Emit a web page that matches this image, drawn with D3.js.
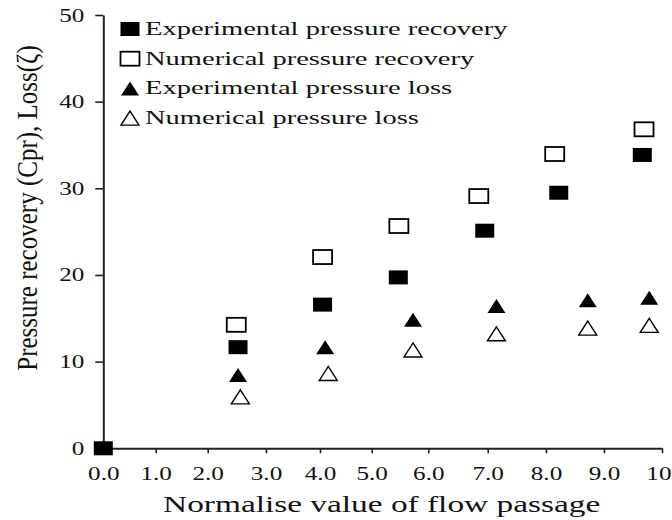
<!DOCTYPE html>
<html><head><meta charset="utf-8">
<script src="https://cdn.jsdelivr.net/npm/d3@7"></script>
<style>body{margin:0;background:#fff}</style></head>
<body>
<svg id="chart" width="672" height="520"></svg>
<script>
// ---- data ----
const xTickValues = [0,1,2,3,4,5,6,7,8,9,10];
const xTickLabels = ["0.0","1.0","2.0","3.0","4.0","5.0","6.0","7.0","8.0","9.0","10"];
const yTickValues = [0,10,20,30,40,50];
const seriesNames = ["Experimental pressure recovery","Numerical pressure recovery","Experimental pressure loss","Numerical pressure loss"];
const expRecoveryX = [0, 2.52, 4.05, 5.47, 6.95, 8.22, 9.66];
const expRecoveryY = [0, 11.67, 16.58, 19.72, 25.11, 29.49, 33.85];
const numRecoveryX = [2.49, 4.05, 5.48, 6.85, 8.15, 9.69];
const numRecoveryY = [14.25, 22.07, 25.65, 29.11, 33.96, 36.81];
const expLossX = [2.52, 4.10, 5.73, 7.15, 8.72, 9.78];
const expLossY = [8.46, 11.67, 14.84, 16.42, 17.08, 17.36];
const numLossX = [2.56, 4.16, 5.73, 7.15, 8.72, 9.78];
const numLossY = [5.93, 8.64, 11.35, 13.21, 13.87, 14.18];
const xTitle = "Normalise value of flow passage";
const yTitle = "Pressure recovery (Cpr), Loss(\u03B6)";

(function(){
// ---- layout ----
const FONT = "'Liberation Serif','Times New Roman',serif";
const plotLeft = 103.3, plotRight = 662, plotTop = 15, plotBottom = 448.3;
// the source figure's x axis is unevenly spaced; calibrate tick positions (offsets from left)
const xTickOffsets = [0, 52.4, 104.4, 162.7, 216.7, 268.4, 325, 384.4, 442.7, 500.7, 558.7];

const svg = d3.select("#chart");
svg.append("rect").attr("width",672).attr("height",520).attr("fill","#fff");

const x = d3.scaleLinear().domain(xTickValues).range(xTickOffsets.map(o => plotLeft + o));
const y = d3.scaleLinear().domain([0,50]).range([plotBottom, plotTop]);

// y axis
const gy = svg.append("g").attr("transform",`translate(${plotLeft},0)`)
  .call(d3.axisLeft(y).tickValues(yTickValues).tickSize(8).tickSizeOuter(0));
gy.select(".domain").attr("stroke","#222").attr("stroke-width",2);
gy.selectAll(".tick line").attr("stroke","#222").attr("stroke-width",1.6);
gy.selectAll(".tick text").attr("x",null).attr("dy",null)
  .attr("transform","translate(-19,6) scale(1.4,1)")
  .attr("font-family",FONT).attr("font-size",18).attr("fill","#111");

// x axis
const gx = svg.append("g").attr("transform",`translate(0,${plotBottom})`)
  .call(d3.axisBottom(x).tickValues(xTickValues).tickFormat((d,i)=>xTickLabels[i]).tickSize(5).tickSizeOuter(0));
gx.select(".domain").attr("stroke","#222").attr("stroke-width",2);
gx.selectAll(".tick line").attr("stroke","#222").attr("stroke-width",1.6);
const lastIdx = xTickValues.length - 1;
gx.selectAll(".tick text").attr("y",null).attr("dy",null)
  .attr("transform",(d,i)=> i===lastIdx ? "translate(9,31.7) scale(1.4,1)" : "translate(0,31.7) scale(1.4,1)")
  .attr("text-anchor",(d,i)=> i===lastIdx ? "end" : "middle")
  .attr("font-family",FONT).attr("font-size",18).attr("fill","#111");

// titles
svg.append("text").text(xTitle)
  .attr("transform",`translate(${(plotLeft+plotRight)/2 - 1},512) scale(1.39,1)`)
  .attr("text-anchor","middle").attr("font-family",FONT).attr("font-size",24).attr("fill","#111");
svg.append("text").text(yTitle)
  .attr("transform","translate(37,208) rotate(-90) scale(1,1.15)")
  .attr("text-anchor","middle").attr("font-family",FONT).attr("font-size",25).attr("fill","#111");

// markers
const MW = 19, MH = 14, TW = 18, TH = 14;
function drawSquare(g, cx, cy, filled){
  g.append("rect").attr("x",cx-MW/2).attr("y",cy-MH/2).attr("width",MW).attr("height",MH)
   .attr("fill",filled?"#000":"#fff").attr("stroke","#000").attr("stroke-width",filled?0:1.8);
}
function drawTriangle(g, cx, cy, filled){
  const p = [[cx,cy-TH/2],[cx+TW/2,cy+TH/2],[cx-TW/2,cy+TH/2]];
  g.append("path").attr("d","M"+p.map(q=>q.join(",")).join("L")+"Z")
   .attr("fill",filled?"#000":"#fff").attr("stroke","#000").attr("stroke-width",filled?0:1.4);
}
const series = [
  {xs:numRecoveryX, ys:numRecoveryY, draw:drawSquare, filled:false},
  {xs:expRecoveryX, ys:expRecoveryY, draw:drawSquare, filled:true},
  {xs:numLossX, ys:numLossY, draw:drawTriangle, filled:false},
  {xs:expLossX, ys:expLossY, draw:drawTriangle, filled:true}
];
const gm = svg.append("g");
series.forEach(s => s.xs.forEach((xv,i) => s.draw(gm, x(xv), y(s.ys[i]), s.filled)));

// legend
const legendDefs = [
  {draw:drawSquare, filled:true},
  {draw:drawSquare, filled:false},
  {draw:drawTriangle, filled:true},
  {draw:drawTriangle, filled:false}
];
const gl = svg.append("g");
seriesNames.forEach((name,i) => {
  const by = 35 + i*29.7;
  legendDefs[i].draw(gl, 130, by-6, legendDefs[i].filled);
  gl.append("text").text(name)
    .attr("transform",`translate(145,${by}) scale(1.5,1)`)
    .attr("font-family",FONT).attr("font-size",19).attr("fill","#111");
});
})();
</script>
</body></html>
